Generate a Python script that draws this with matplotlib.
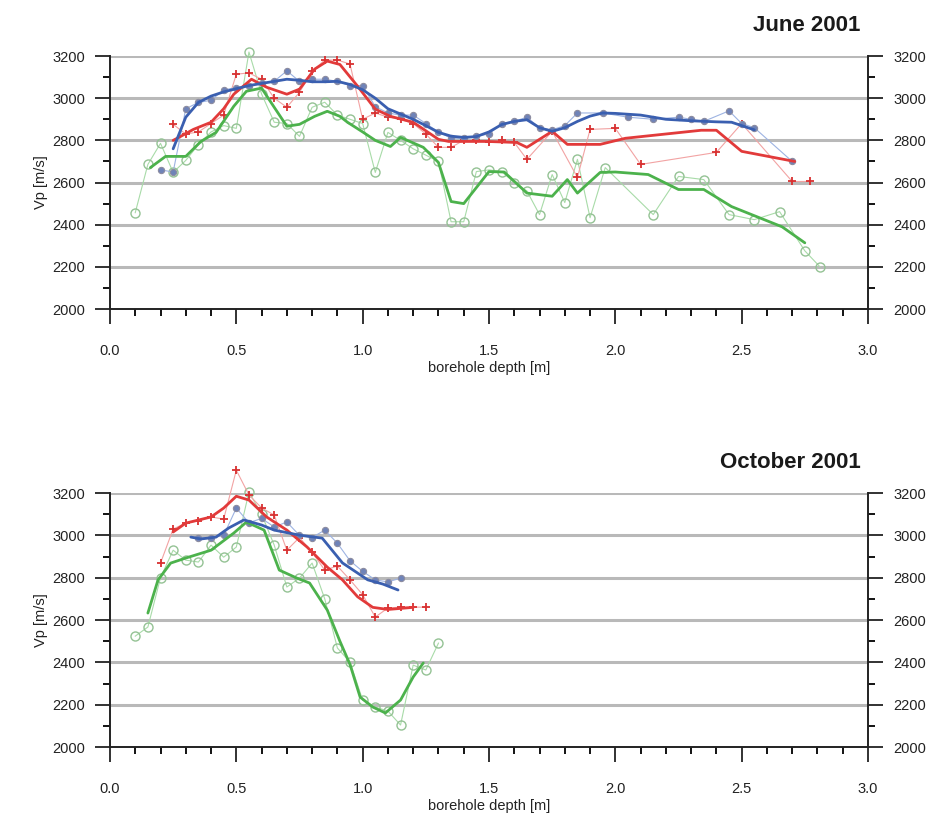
import numpy as np
from matplotlib import pyplot as plt
import matplotlib.ticker as ticker

plt.rcParams['font.family'] = ['Liberation Sans Narrow', 'Liberation Sans', 'DejaVu Sans']

# ---- June 2001 ----
jun_blue_d = [0.20, 0.25, 0.30, 0.35, 0.40, 0.45, 0.50, 0.55, 0.60, 0.65, 0.70, 0.75, 0.80, 0.85,
              0.90, 0.95, 1.00, 1.05, 1.10, 1.15, 1.20, 1.25, 1.30, 1.35, 1.40, 1.45, 1.50, 1.55,
              1.60, 1.65, 1.70, 1.75, 1.80, 1.85, 1.95, 2.05, 2.15, 2.25, 2.30, 2.35, 2.45, 2.50,
              2.55, 2.70]
jun_blue_v = [2660, 2650, 2950, 2980, 2990, 3040, 3050, 3060, 3070, 3080, 3130, 3080, 3090, 3090,
              3080, 3060, 3060, 2960, 2930, 2920, 2920, 2880, 2840, 2810, 2810, 2820, 2830, 2880,
              2890, 2910, 2860, 2850, 2870, 2930, 2930, 2910, 2900, 2910, 2900, 2890, 2940, 2880,
              2860, 2700]
jun_blue_sd = [0.25, 0.30, 0.35, 0.40, 0.45, 0.50, 0.55, 0.60, 0.65, 0.70, 0.75, 0.80, 0.85, 0.90,
               0.95, 1.00, 1.05, 1.10, 1.15, 1.20, 1.25, 1.30, 1.35, 1.40, 1.45, 1.50, 1.55, 1.60,
               1.65, 1.70, 1.75, 1.80, 1.85, 1.90, 1.95, 2.00, 2.10, 2.20, 2.30, 2.40, 2.46, 2.50, 2.55]
jun_blue_sv = [2760, 2910, 2980, 3010, 3030, 3045, 3060, 3070, 3080, 3090, 3085, 3078, 3078, 3080,
               3065, 3040, 3000, 2950, 2925, 2900, 2870, 2838, 2820, 2814, 2818, 2840, 2875, 2890,
               2898, 2860, 2843, 2860, 2890, 2915, 2930, 2928, 2920, 2900, 2893, 2888, 2886, 2870, 2850]

jun_red_d = [0.25, 0.30, 0.35, 0.40, 0.45, 0.50, 0.55, 0.60, 0.65, 0.70, 0.75, 0.80, 0.85, 0.90,
             0.95, 1.00, 1.05, 1.10, 1.15, 1.20, 1.25, 1.30, 1.35, 1.40, 1.45, 1.50, 1.55, 1.60,
             1.65, 1.75, 1.85, 1.90, 2.00, 2.10, 2.40, 2.50, 2.70, 2.77]
jun_red_v = [2876, 2830, 2840, 2880, 2920, 3114, 3120, 3090, 3000, 2957, 3028, 3128, 3181, 3181,
             3162, 2900, 2930, 2910, 2900, 2880, 2830, 2767, 2767, 2800, 2800, 2790, 2800, 2790,
             2710, 2843, 2624, 2852, 2857, 2686, 2743, 2880, 2605, 2605]
jun_red_sd = [0.25, 0.28, 0.33, 0.40, 0.45, 0.49, 0.56, 0.62, 0.70, 0.75, 0.81, 0.86, 0.91, 0.98,
              1.05, 1.11, 1.20, 1.30, 1.34, 1.49, 1.61, 1.65, 1.75, 1.81, 1.94, 2.04, 2.34, 2.40,
              2.50, 2.71]
jun_red_sv = [2800, 2819, 2852, 2886, 2950, 3019, 3090, 3052, 3019, 3043, 3138, 3176, 3160, 3057,
              2948, 2914, 2886, 2805, 2795, 2795, 2790, 2767, 2843, 2781, 2781, 2810, 2848, 2848,
              2748, 2700]

jun_green_d = [0.10, 0.15, 0.20, 0.25, 0.30, 0.35, 0.40, 0.45, 0.50, 0.55, 0.60, 0.65, 0.70, 0.75,
               0.80, 0.85, 0.90, 0.95, 1.00, 1.05, 1.10, 1.15, 1.20, 1.25, 1.30, 1.35, 1.40, 1.45,
               1.50, 1.55, 1.60, 1.65, 1.70, 1.75, 1.80, 1.85, 1.90, 1.96, 2.15, 2.25, 2.35, 2.45,
               2.55, 2.65, 2.75, 2.81]
jun_green_v = [2457, 2686, 2786, 2648, 2705, 2780, 2840, 2870, 2857, 3219, 3020, 2886, 2880, 2819,
               2957, 2981, 2920, 2900, 2880, 2648, 2838, 2800, 2760, 2730, 2700, 2414, 2414, 2652,
               2660, 2652, 2600, 2560, 2448, 2638, 2505, 2710, 2433, 2671, 2448, 2629, 2614, 2448,
               2424, 2462, 2276, 2200]
jun_green_sd = [0.16, 0.22, 0.30, 0.36, 0.42, 0.49, 0.54, 0.60, 0.65, 0.70, 0.75, 0.81, 0.86, 0.91,
                0.94, 1.00, 1.05, 1.11, 1.15, 1.24, 1.30, 1.35, 1.40, 1.50, 1.56, 1.65, 1.75, 1.81,
                1.85, 1.94, 2.00, 2.13, 2.25, 2.35, 2.46, 2.66, 2.75]
jun_green_sv = [2671, 2724, 2724, 2795, 2838, 2962, 3033, 3048, 2957, 2867, 2876, 2914, 2938, 2914,
                2886, 2840, 2800, 2771, 2814, 2767, 2695, 2510, 2500, 2652, 2650, 2550, 2535, 2614,
                2550, 2648, 2650, 2638, 2567, 2567, 2486, 2390, 2314]

# ---- October 2001 ----
oct_blue_d = [0.35, 0.40, 0.45, 0.50, 0.55, 0.60, 0.65, 0.70, 0.75, 0.80, 0.85, 0.90, 0.95, 1.00,
              1.05, 1.10, 1.15]
oct_blue_v = [2990, 2990, 3000, 3129, 3060, 3080, 3040, 3063, 3000, 2990, 3025, 2963, 2880, 2830,
              2790, 2780, 2798]
oct_blue_sd = [0.32, 0.36, 0.42, 0.47, 0.53, 0.60, 0.65, 0.75, 0.84, 0.92, 0.97, 1.02, 1.08, 1.14]
oct_blue_sv = [2992, 2983, 2992, 3035, 3073, 3049, 3025, 3001, 2987, 2870, 2830, 2790, 2770, 2742]

oct_red_d = [0.20, 0.25, 0.30, 0.35, 0.40, 0.45, 0.50, 0.55, 0.60, 0.65, 0.70, 0.75, 0.80, 0.85,
             0.90, 0.95, 1.00, 1.05, 1.10, 1.15, 1.20, 1.25]
oct_red_v = [2869, 3030, 3058, 3068, 3087, 3077, 3308, 3191, 3130, 3096, 2930, 2990, 2920, 2836,
             2855, 2790, 2720, 2614, 2657, 2661, 2661, 2661]
oct_red_sd = [0.25, 0.30, 0.40, 0.45, 0.50, 0.55, 0.62, 0.70, 0.78, 0.86, 0.92, 0.98, 1.04, 1.10, 1.20]
oct_red_sv = [3016, 3058, 3087, 3129, 3185, 3167, 3087, 3025, 2945, 2850, 2790, 2710, 2660, 2650, 2660]

oct_green_d = [0.10, 0.15, 0.20, 0.25, 0.30, 0.35, 0.40, 0.45, 0.50, 0.55, 0.60, 0.65, 0.70, 0.75,
               0.80, 0.85, 0.90, 0.95, 1.00, 1.05, 1.10, 1.15, 1.20, 1.25, 1.30]
oct_green_v = [2524, 2567, 2800, 2930, 2883, 2874, 2954, 2897, 2945, 3205, 3100, 2954, 2756, 2798,
               2869, 2700, 2468, 2401, 2222, 2189, 2170, 2104, 2387, 2364, 2491]
oct_green_sd = [0.15, 0.19, 0.24, 0.30, 0.40, 0.49, 0.54, 0.61, 0.67, 0.74, 0.79, 0.86, 0.91, 0.95,
                0.99, 1.04, 1.09, 1.15, 1.20, 1.24]
oct_green_sv = [2633, 2789, 2869, 2893, 2930, 3011, 3063, 3025, 2836, 2798, 2775, 2647, 2500, 2390,
                2236, 2189, 2161, 2222, 2331, 2397]

titles = ['June 2001', 'October 2001']
yticks = [2000, 2200, 2400, 2600, 2800, 3000, 3200]
xticks = [0.0, 0.5, 1.0, 1.5, 2.0, 2.5, 3.0]

styles = {
    'blue':  dict(thin='#9db3e2', thick='#3a5fb0', marker='o', ms=4.5, mfc='#6f83b8', mec='#8c8ca0', mew=0.8),
    'red':   dict(thin='#f2a3a3', thick='#e23a3a', marker='+', ms=6, mfc='#d83030', mec='#d83030', mew=1.3),
    'green': dict(thin='#a8dba8', thick='#4cb24c', marker='o', ms=6.5, mfc='none', mec='#94c294', mew=1.0),
}


def draw_panel(ax, series, title):
    for y in yticks[1:]:
        ax.axhline(y, color='#b9b9b9', lw=2.2, zorder=0)
    for name, d, v, sd, sv in series:
        st = styles[name]
        ax.plot(d, v, color=st['thin'], lw=0.8, marker=st['marker'], ms=st['ms'],
                mfc=st['mfc'], mec=st['mec'], mew=st['mew'], clip_on=False, zorder=2)
    for name, d, v, sd, sv in series:
        st = styles[name]
        ax.plot(sd, sv, color=st['thick'], lw=2.0, solid_capstyle='round', zorder=3)

    ax.set_xlim(0, 3.0)
    ax.set_ylim(2000, 3200)
    ax.set_xticks(xticks)
    ax.xaxis.set_major_formatter(ticker.FormatStrFormatter('%.1f'))
    ax.xaxis.set_minor_locator(ticker.MultipleLocator(0.1))
    ax.set_yticks(yticks)
    ax.yaxis.set_minor_locator(ticker.MultipleLocator(100))
    ax.tick_params(axis='both', which='major', direction='out', length=11, width=1.3,
                   labelsize=10.5, colors='#222222', pad=7)
    ax.tick_params(axis='x', which='major', pad=14)
    ax.tick_params(axis='both', which='minor', direction='out', length=5, width=1.3)
    ax.tick_params(axis='y', which='both', left=True, right=True, labelleft=True, labelright=True)
    ax.spines['top'].set_visible(False)
    for s in ['left', 'right', 'bottom']:
        ax.spines[s].set_linewidth(1.4)
        ax.spines[s].set_color('#222222')
    ax.set_xlabel('borehole depth [m]', fontsize=10.5, color='#222222', labelpad=2)
    ax.set_ylabel('Vp [m/s]', fontsize=10.5, color='#222222', labelpad=3)
    ax.text(0.99, 1.08, title, transform=ax.transAxes, ha='right', va='bottom',
            fontsize=16, fontweight='bold', color='#1a1a1a')


fig = plt.figure(figsize=(9.44, 8.23), dpi=100)
ax1 = fig.add_axes([0.1165, 0.6245, 0.803, 0.3074])
ax2 = fig.add_axes([0.1165, 0.0923, 0.803, 0.3086])

draw_panel(ax1, [
    ('green', jun_green_d, jun_green_v, jun_green_sd, jun_green_sv),
    ('red', jun_red_d, jun_red_v, jun_red_sd, jun_red_sv),
    ('blue', jun_blue_d, jun_blue_v, jun_blue_sd, jun_blue_sv),
], titles[0])

draw_panel(ax2, [
    ('green', oct_green_d, oct_green_v, oct_green_sd, oct_green_sv),
    ('red', oct_red_d, oct_red_v, oct_red_sd, oct_red_sv),
    ('blue', oct_blue_d, oct_blue_v, oct_blue_sd, oct_blue_sv),
], titles[1])

fig.savefig('out.png', dpi=100)
